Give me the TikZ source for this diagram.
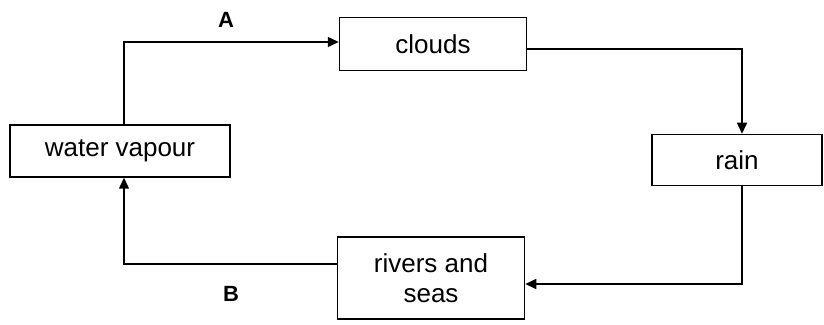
\documentclass[tikz,border=0pt]{standalone}
\usepackage{fontspec}
\setmainfont{Liberation Sans}
\usetikzlibrary{arrows.meta}

\begin{document}
\begin{tikzpicture}[
  stage/.style={draw, line width=1.5pt, align=center, font=\fontsize{26}{30}\selectfont},
  flow/.style={line width=1.5pt, -{Triangle[length=11pt,width=10pt]}},
  letter/.style={font=\fontsize{22}{26}\selectfont\bfseries}]
\useasboundingbox (0,0) rectangle (824pt,324pt);
\node[stage, minimum width=220pt, minimum height=52pt] (vapour) at (120pt,173pt) {water vapour};
\node[stage, minimum width=187pt, minimum height=53pt] (clouds) at (433pt,280pt) {clouds};
\node[stage, minimum width=170pt, minimum height=51pt] (rain) at (737pt,164pt) {rain};
\node[stage, minimum width=187pt, minimum height=82pt] (rivers) at (431pt,46pt) {rivers and\\seas};
\draw[flow] ([xshift=4pt]vapour.north) |- ([yshift=2pt]clouds.west);
\draw[flow] ([yshift=-5pt]clouds.east) -| ([xshift=5pt]rain.north);
\draw[flow] ([xshift=5pt]rain.south) |- ([yshift=-6pt]rivers.east);
\draw[flow] ([yshift=14pt]rivers.west) -| ([xshift=4pt]vapour.south);
\node[letter] (labA) at (226pt,304pt) {A};
\node[letter] (labB) at (231pt,30pt) {B};
\end{tikzpicture}
\end{document}
